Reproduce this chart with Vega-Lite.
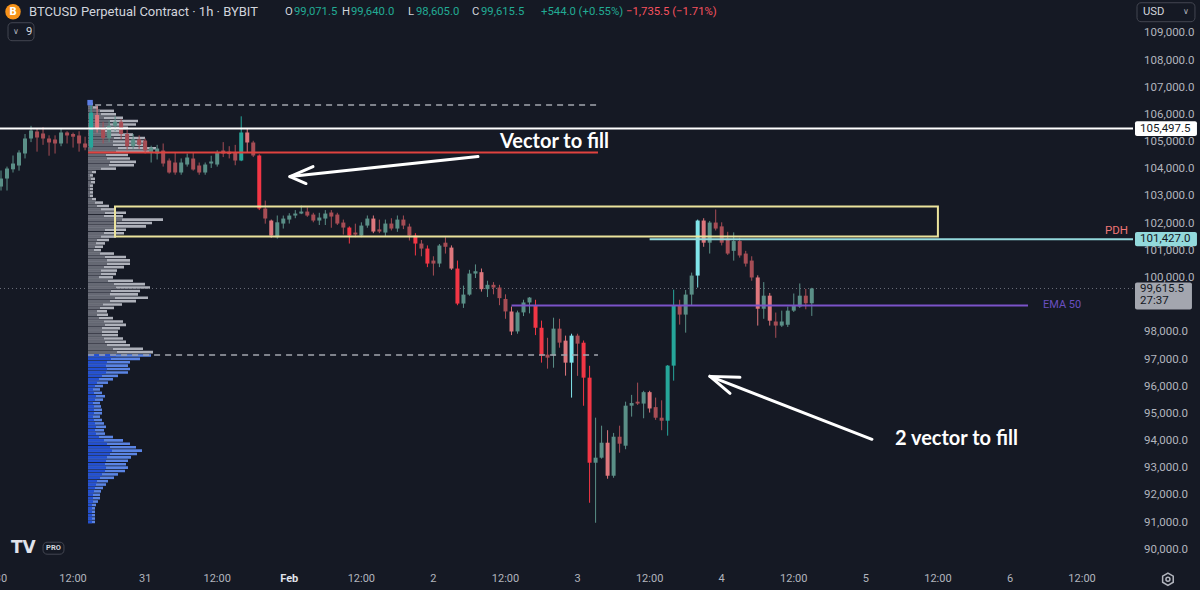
{
"$schema": "https://vega.github.io/schema/vega-lite/v6.json",
"width": 1133, "height": 568,
"autosize": {"type": "none"},
"padding": {"left": 0, "top": 0, "right": 67, "bottom": 22},
"background": "#151924",
"config": {"view": {"stroke": null}, "font": "Roboto", "axis": {"grid": false}},
"datasets": {
"candles": [
{"t":"2025-01-30T00:00Z","o":103366,"h":103956,"l":103219,"c":103661,"k":"up"},
{"t":"2025-01-30T01:00Z","o":103661,"h":104100,"l":103219,"c":104029,"k":"up"},
{"t":"2025-01-30T02:00Z","o":104000,"h":104508,"l":103882,"c":104213,"k":"up"},
{"t":"2025-01-30T03:00Z","o":104140,"h":104700,"l":103950,"c":104618,"k":"up"},
{"t":"2025-01-30T04:00Z","o":104582,"h":105300,"l":104400,"c":105134,"k":"up"},
{"t":"2025-01-30T05:00Z","o":105134,"h":105600,"l":105000,"c":105428,"k":"up"},
{"t":"2025-01-30T06:00Z","o":105392,"h":105500,"l":104650,"c":105170,"k":"dn"},
{"t":"2025-01-30T07:00Z","o":105318,"h":105550,"l":104900,"c":105134,"k":"dn"},
{"t":"2025-01-30T08:00Z","o":105134,"h":105250,"l":104500,"c":104987,"k":"dn"},
{"t":"2025-01-30T09:00Z","o":105097,"h":105250,"l":104580,"c":104950,"k":"dn"},
{"t":"2025-01-30T10:00Z","o":104950,"h":105500,"l":104850,"c":105355,"k":"up"},
{"t":"2025-01-30T11:00Z","o":105355,"h":105400,"l":104950,"c":105245,"k":"dn"},
{"t":"2025-01-30T12:00Z","o":105300,"h":105350,"l":104800,"c":105200,"k":"dn"},
{"t":"2025-01-30T13:00Z","o":105245,"h":105400,"l":104650,"c":104950,"k":"dn"},
{"t":"2025-01-30T14:00Z","o":104950,"h":105200,"l":104700,"c":104802,"k":"dn"},
{"t":"2025-01-30T15:00Z","o":104803,"h":106450,"l":104692,"c":106091,"k":"vup"},
{"t":"2025-01-30T16:00Z","o":106000,"h":106350,"l":105350,"c":105500,"k":"pdn"},
{"t":"2025-01-30T17:00Z","o":105500,"h":105750,"l":104950,"c":105150,"k":"dn"},
{"t":"2025-01-30T18:00Z","o":105150,"h":105800,"l":105000,"c":105600,"k":"up"},
{"t":"2025-01-30T19:00Z","o":105600,"h":105950,"l":105400,"c":105750,"k":"up"},
{"t":"2025-01-30T20:00Z","o":105750,"h":105850,"l":105100,"c":105300,"k":"dn"},
{"t":"2025-01-30T21:00Z","o":105300,"h":105450,"l":104700,"c":104850,"k":"dn"},
{"t":"2025-01-30T22:00Z","o":104850,"h":105300,"l":104750,"c":105100,"k":"up"},
{"t":"2025-01-30T23:00Z","o":105100,"h":105250,"l":104750,"c":104900,"k":"dn"},
{"t":"2025-01-31T00:00Z","o":105060,"h":105134,"l":104582,"c":104692,"k":"dn"},
{"t":"2025-01-31T01:00Z","o":104618,"h":104870,"l":104250,"c":104802,"k":"up"},
{"t":"2025-01-31T02:00Z","o":104582,"h":104900,"l":104360,"c":104765,"k":"up"},
{"t":"2025-01-31T03:00Z","o":104692,"h":104950,"l":104100,"c":104213,"k":"dn"},
{"t":"2025-01-31T04:00Z","o":104324,"h":104400,"l":103840,"c":103882,"k":"dn"},
{"t":"2025-01-31T05:00Z","o":104250,"h":104600,"l":103800,"c":103882,"k":"dn"},
{"t":"2025-01-31T06:00Z","o":103882,"h":104400,"l":103800,"c":104250,"k":"up"},
{"t":"2025-01-31T07:00Z","o":104176,"h":104580,"l":104100,"c":104434,"k":"up"},
{"t":"2025-01-31T08:00Z","o":104397,"h":104600,"l":103950,"c":103992,"k":"dn"},
{"t":"2025-01-31T09:00Z","o":104140,"h":104250,"l":103800,"c":103882,"k":"dn"},
{"t":"2025-01-31T10:00Z","o":103882,"h":104250,"l":103800,"c":104176,"k":"up"},
{"t":"2025-01-31T11:00Z","o":104213,"h":104500,"l":104050,"c":104287,"k":"up"},
{"t":"2025-01-31T12:00Z","o":104176,"h":104700,"l":104100,"c":104618,"k":"up"},
{"t":"2025-01-31T13:00Z","o":104692,"h":105000,"l":104450,"c":104582,"k":"dn"},
{"t":"2025-01-31T14:00Z","o":104650,"h":104850,"l":104400,"c":104560,"k":"dn"},
{"t":"2025-01-31T15:00Z","o":104618,"h":104900,"l":104150,"c":104324,"k":"dn"},
{"t":"2025-01-31T16:00Z","o":104324,"h":105950,"l":104300,"c":105355,"k":"vup"},
{"t":"2025-01-31T17:00Z","o":105355,"h":105500,"l":104618,"c":104987,"k":"pdn"},
{"t":"2025-01-31T18:00Z","o":104987,"h":105050,"l":104450,"c":104508,"k":"dn"},
{"t":"2025-01-31T19:00Z","o":104508,"h":104550,"l":102500,"c":102557,"k":"vdn"},
{"t":"2025-01-31T20:00Z","o":102557,"h":102850,"l":102000,"c":102189,"k":"dn"},
{"t":"2025-01-31T21:00Z","o":102115,"h":102150,"l":101480,"c":101562,"k":"pdn"},
{"t":"2025-01-31T22:00Z","o":101500,"h":102300,"l":101450,"c":102050,"k":"up"},
{"t":"2025-01-31T23:00Z","o":102004,"h":102298,"l":101820,"c":102188,"k":"up"},
{"t":"2025-02-01T00:00Z","o":102151,"h":102384,"l":102004,"c":102298,"k":"up"},
{"t":"2025-02-01T01:00Z","o":102298,"h":102500,"l":102200,"c":102372,"k":"up"},
{"t":"2025-02-01T02:00Z","o":102372,"h":102667,"l":102350,"c":102446,"k":"up"},
{"t":"2025-02-01T03:00Z","o":102446,"h":102600,"l":102250,"c":102298,"k":"dn"},
{"t":"2025-02-01T04:00Z","o":102335,"h":102400,"l":102050,"c":102115,"k":"dn"},
{"t":"2025-02-01T05:00Z","o":102115,"h":102400,"l":101950,"c":102225,"k":"up"},
{"t":"2025-02-01T06:00Z","o":102188,"h":102500,"l":101950,"c":102372,"k":"up"},
{"t":"2025-02-01T07:00Z","o":102410,"h":102500,"l":101850,"c":102262,"k":"dn"},
{"t":"2025-02-01T08:00Z","o":102335,"h":102400,"l":101950,"c":102004,"k":"dn"},
{"t":"2025-02-01T09:00Z","o":102041,"h":102150,"l":101600,"c":101857,"k":"dn"},
{"t":"2025-02-01T10:00Z","o":101857,"h":101900,"l":101268,"c":101562,"k":"vdn"},
{"t":"2025-02-01T11:00Z","o":101673,"h":102000,"l":101500,"c":101600,"k":"dn"},
{"t":"2025-02-01T12:00Z","o":101562,"h":102050,"l":101500,"c":101930,"k":"up"},
{"t":"2025-02-01T13:00Z","o":101930,"h":102300,"l":101850,"c":102188,"k":"up"},
{"t":"2025-02-01T14:00Z","o":102188,"h":102300,"l":101650,"c":101710,"k":"pdn"},
{"t":"2025-02-01T15:00Z","o":101790,"h":102150,"l":101650,"c":101710,"k":"dn"},
{"t":"2025-02-01T16:00Z","o":101673,"h":102150,"l":101550,"c":102004,"k":"up"},
{"t":"2025-02-01T17:00Z","o":102004,"h":102200,"l":101750,"c":101820,"k":"dn"},
{"t":"2025-02-01T18:00Z","o":101820,"h":102300,"l":101700,"c":102150,"k":"up"},
{"t":"2025-02-01T19:00Z","o":102150,"h":102300,"l":101800,"c":101930,"k":"dn"},
{"t":"2025-02-01T20:00Z","o":101893,"h":102000,"l":101380,"c":101562,"k":"dn"},
{"t":"2025-02-01T21:00Z","o":101562,"h":101650,"l":100830,"c":101268,"k":"vdn"},
{"t":"2025-02-01T22:00Z","o":101268,"h":101400,"l":100800,"c":101084,"k":"dn"},
{"t":"2025-02-01T23:00Z","o":101084,"h":101200,"l":100400,"c":100532,"k":"vdn"},
{"t":"2025-02-02T00:00Z","o":100642,"h":100800,"l":100090,"c":100532,"k":"dn"},
{"t":"2025-02-02T01:00Z","o":100532,"h":101250,"l":100400,"c":101195,"k":"up"},
{"t":"2025-02-02T02:00Z","o":101300,"h":101500,"l":100900,"c":101150,"k":"dn"},
{"t":"2025-02-02T03:00Z","o":101120,"h":101200,"l":100300,"c":100348,"k":"pdn"},
{"t":"2025-02-02T04:00Z","o":100348,"h":100642,"l":99000,"c":99060,"k":"vdn"},
{"t":"2025-02-02T05:00Z","o":99060,"h":99720,"l":98900,"c":99390,"k":"up"},
{"t":"2025-02-02T06:00Z","o":99390,"h":100300,"l":99350,"c":100164,"k":"up"},
{"t":"2025-02-02T07:00Z","o":100164,"h":100500,"l":100000,"c":100250,"k":"up"},
{"t":"2025-02-02T08:00Z","o":100215,"h":100350,"l":99500,"c":99590,"k":"pdn"},
{"t":"2025-02-02T09:00Z","o":99590,"h":99900,"l":99300,"c":99750,"k":"up"},
{"t":"2025-02-02T10:00Z","o":99750,"h":99850,"l":99400,"c":99650,"k":"dn"},
{"t":"2025-02-02T11:00Z","o":99650,"h":99750,"l":99000,"c":99260,"k":"dn"},
{"t":"2025-02-02T12:00Z","o":99230,"h":99400,"l":98500,"c":98770,"k":"dn"},
{"t":"2025-02-02T13:00Z","o":98770,"h":98950,"l":97900,"c":98035,"k":"pdn"},
{"t":"2025-02-02T14:00Z","o":98035,"h":98800,"l":97950,"c":98735,"k":"up"},
{"t":"2025-02-02T15:00Z","o":98735,"h":99200,"l":98600,"c":99100,"k":"up"},
{"t":"2025-02-02T16:00Z","o":99100,"h":99300,"l":98700,"c":99280,"k":"up"},
{"t":"2025-02-02T17:00Z","o":99000,"h":99200,"l":97900,"c":98170,"k":"vdn"},
{"t":"2025-02-02T18:00Z","o":98170,"h":98433,"l":96887,"c":97144,"k":"vdn"},
{"t":"2025-02-02T19:00Z","o":97180,"h":97800,"l":96665,"c":97070,"k":"dn"},
{"t":"2025-02-02T20:00Z","o":97144,"h":98540,"l":96700,"c":98138,"k":"up"},
{"t":"2025-02-02T21:00Z","o":98138,"h":98500,"l":97437,"c":97623,"k":"dn"},
{"t":"2025-02-02T22:00Z","o":97696,"h":97880,"l":96408,"c":96886,"k":"pdn"},
{"t":"2025-02-02T23:00Z","o":96886,"h":97950,"l":95600,"c":97880,"k":"cup"},
{"t":"2025-02-03T00:00Z","o":97880,"h":97950,"l":96400,"c":97585,"k":"dn"},
{"t":"2025-02-03T01:00Z","o":97620,"h":97700,"l":95300,"c":96334,"k":"vdn"},
{"t":"2025-02-03T02:00Z","o":96334,"h":96770,"l":91731,"c":93204,"k":"vdn"},
{"t":"2025-02-03T03:00Z","o":93204,"h":94861,"l":90995,"c":93389,"k":"up"},
{"t":"2025-02-03T04:00Z","o":93389,"h":94566,"l":93352,"c":93940,"k":"up"},
{"t":"2025-02-03T05:00Z","o":93940,"h":94400,"l":92615,"c":92725,"k":"pdn"},
{"t":"2025-02-03T06:00Z","o":92725,"h":94300,"l":92650,"c":94161,"k":"up"},
{"t":"2025-02-03T07:00Z","o":94161,"h":94566,"l":93573,"c":93904,"k":"dn"},
{"t":"2025-02-03T08:00Z","o":93830,"h":95450,"l":93700,"c":95303,"k":"up"},
{"t":"2025-02-03T09:00Z","o":95303,"h":95700,"l":94900,"c":95400,"k":"up"},
{"t":"2025-02-03T10:00Z","o":95450,"h":96150,"l":95330,"c":95380,"k":"dn"},
{"t":"2025-02-03T11:00Z","o":95380,"h":95850,"l":94840,"c":95800,"k":"up"},
{"t":"2025-02-03T12:00Z","o":95800,"h":95850,"l":95050,"c":95200,"k":"pdn"},
{"t":"2025-02-03T13:00Z","o":95250,"h":95600,"l":94780,"c":94860,"k":"dn"},
{"t":"2025-02-03T14:00Z","o":94860,"h":95500,"l":94400,"c":94750,"k":"dn"},
{"t":"2025-02-03T15:00Z","o":94750,"h":96800,"l":94200,"c":96776,"k":"vup"},
{"t":"2025-02-03T16:00Z","o":96776,"h":99570,"l":96224,"c":98986,"k":"vup"},
{"t":"2025-02-03T17:00Z","o":98986,"h":99200,"l":98286,"c":98654,"k":"dn"},
{"t":"2025-02-03T18:00Z","o":98654,"h":99560,"l":97990,"c":99390,"k":"up"},
{"t":"2025-02-03T19:00Z","o":99390,"h":100200,"l":98986,"c":100090,"k":"up"},
{"t":"2025-02-03T20:00Z","o":100090,"h":102150,"l":99650,"c":102115,"k":"cup"},
{"t":"2025-02-03T21:00Z","o":102115,"h":102200,"l":101150,"c":101300,"k":"pdn"},
{"t":"2025-02-03T22:00Z","o":101300,"h":102100,"l":100900,"c":102041,"k":"up"},
{"t":"2025-02-03T23:00Z","o":102041,"h":102520,"l":101750,"c":101820,"k":"dn"},
{"t":"2025-02-04T00:00Z","o":101900,"h":102050,"l":101200,"c":101300,"k":"dn"},
{"t":"2025-02-04T01:00Z","o":101450,"h":101700,"l":100850,"c":100900,"k":"dn"},
{"t":"2025-02-04T02:00Z","o":101000,"h":101680,"l":100640,"c":101360,"k":"up"},
{"t":"2025-02-04T03:00Z","o":101360,"h":101480,"l":100750,"c":100830,"k":"dn"},
{"t":"2025-02-04T04:00Z","o":100900,"h":101000,"l":100420,"c":100530,"k":"dn"},
{"t":"2025-02-04T05:00Z","o":100642,"h":100800,"l":99900,"c":100020,"k":"dn"},
{"t":"2025-02-04T06:00Z","o":100020,"h":100100,"l":98250,"c":98870,"k":"pdn"},
{"t":"2025-02-04T07:00Z","o":98870,"h":99850,"l":98500,"c":99350,"k":"up"},
{"t":"2025-02-04T08:00Z","o":99350,"h":99450,"l":98250,"c":98430,"k":"pdn"},
{"t":"2025-02-04T09:00Z","o":98400,"h":98730,"l":97800,"c":98250,"k":"dn"},
{"t":"2025-02-04T10:00Z","o":98250,"h":98800,"l":98200,"c":98400,"k":"up"},
{"t":"2025-02-04T11:00Z","o":98280,"h":98950,"l":98200,"c":98800,"k":"up"},
{"t":"2025-02-04T12:00Z","o":98800,"h":99430,"l":98750,"c":98980,"k":"up"},
{"t":"2025-02-04T13:00Z","o":98950,"h":99800,"l":98900,"c":99350,"k":"up"},
{"t":"2025-02-04T14:00Z","o":99350,"h":99600,"l":98850,"c":99071.5,"k":"dn"},
{"t":"2025-02-04T15:00Z","o":99071.5,"h":99640,"l":98605,"c":99615.5,"k":"up"}
],
"profile": [
{"p":106400,"v":5,"u":2,"z":"va"},{"p":106275,"v":10,"u":5,"z":"va"},{"p":106150,"v":26,"u":12,"z":"va"},{"p":106025,"v":28,"u":13,"z":"va"},
{"p":105900,"v":35,"u":16,"z":"va"},{"p":105775,"v":50,"u":22,"z":"va"},{"p":105650,"v":48,"u":22,"z":"va"},{"p":105525,"v":40,"u":18,"z":"va"},
{"p":105400,"v":35,"u":16,"z":"va"},{"p":105275,"v":45,"u":20,"z":"va"},{"p":105150,"v":57,"u":26,"z":"va"},{"p":105025,"v":56,"u":25,"z":"va"},
{"p":104900,"v":55,"u":25,"z":"va"},{"p":104775,"v":68,"u":30,"z":"va"},{"p":104650,"v":62,"u":28,"z":"va"},{"p":104525,"v":40,"u":18,"z":"va"},
{"p":104400,"v":42,"u":19,"z":"va"},{"p":104275,"v":48,"u":22,"z":"va"},{"p":104150,"v":46,"u":21,"z":"va"},{"p":104025,"v":28,"u":13,"z":"va"},
{"p":103900,"v":8,"u":4,"z":"va"},{"p":103775,"v":5,"u":2,"z":"va"},{"p":103650,"v":7,"u":3,"z":"va"},{"p":103525,"v":7,"u":3,"z":"va"},
{"p":103400,"v":5,"u":2,"z":"va"},{"p":103275,"v":5,"u":2,"z":"va"},{"p":103150,"v":5,"u":2,"z":"va"},{"p":103025,"v":5,"u":2,"z":"va"},
{"p":102900,"v":8,"u":4,"z":"va"},{"p":102775,"v":15,"u":7,"z":"va"},{"p":102650,"v":21,"u":9,"z":"va"},{"p":102525,"v":28,"u":13,"z":"va"},
{"p":102400,"v":38,"u":17,"z":"va"},{"p":102275,"v":35,"u":16,"z":"va"},{"p":102150,"v":75,"u":34,"z":"va"},{"p":102025,"v":64,"u":29,"z":"va"},
{"p":101900,"v":58,"u":26,"z":"va"},{"p":101775,"v":38,"u":17,"z":"va"},{"p":101650,"v":36,"u":16,"z":"va"},{"p":101525,"v":28,"u":13,"z":"va"},
{"p":101400,"v":21,"u":9,"z":"va"},{"p":101275,"v":17,"u":8,"z":"va"},{"p":101150,"v":15,"u":7,"z":"va"},{"p":101025,"v":13,"u":6,"z":"va"},
{"p":100900,"v":26,"u":12,"z":"va"},{"p":100775,"v":38,"u":17,"z":"va"},{"p":100650,"v":42,"u":19,"z":"va"},{"p":100525,"v":42,"u":19,"z":"va"},
{"p":100400,"v":36,"u":16,"z":"va"},{"p":100275,"v":29,"u":13,"z":"va"},{"p":100150,"v":28,"u":13,"z":"va"},{"p":100025,"v":25,"u":11,"z":"va"},
{"p":99900,"v":45,"u":20,"z":"va"},{"p":99775,"v":57,"u":26,"z":"va"},{"p":99650,"v":62,"u":28,"z":"va"},{"p":99525,"v":52,"u":23,"z":"va"},
{"p":99400,"v":50,"u":22,"z":"va"},{"p":99275,"v":60,"u":27,"z":"va"},{"p":99150,"v":48,"u":22,"z":"va"},{"p":99025,"v":34,"u":15,"z":"va"},
{"p":98900,"v":26,"u":12,"z":"va"},{"p":98775,"v":19,"u":9,"z":"va"},{"p":98650,"v":20,"u":9,"z":"va"},{"p":98525,"v":25,"u":11,"z":"va"},
{"p":98400,"v":35,"u":16,"z":"va"},{"p":98275,"v":38,"u":17,"z":"va"},{"p":98150,"v":32,"u":14,"z":"va"},{"p":98025,"v":30,"u":14,"z":"va"},
{"p":97900,"v":30,"u":14,"z":"va"},{"p":97775,"v":35,"u":16,"z":"va"},{"p":97650,"v":38,"u":17,"z":"va"},{"p":97525,"v":42,"u":19,"z":"va"},
{"p":97400,"v":55,"u":25,"z":"va"},{"p":97275,"v":65,"u":29,"z":"va"},
{"p":97150,"v":63,"u":28,"z":"out"},{"p":97025,"v":52,"u":23,"z":"out"},{"p":96900,"v":42,"u":19,"z":"out"},{"p":96775,"v":40,"u":18,"z":"out"},
{"p":96650,"v":42,"u":19,"z":"out"},{"p":96525,"v":40,"u":18,"z":"out"},{"p":96400,"v":30,"u":14,"z":"out"},{"p":96275,"v":25,"u":11,"z":"out"},
{"p":96150,"v":20,"u":9,"z":"out"},{"p":96025,"v":15,"u":7,"z":"out"},{"p":95900,"v":12,"u":5,"z":"out"},{"p":95775,"v":14,"u":6,"z":"out"},
{"p":95650,"v":17,"u":8,"z":"out"},{"p":95525,"v":15,"u":7,"z":"out"},{"p":95400,"v":12,"u":5,"z":"out"},{"p":95275,"v":13,"u":6,"z":"out"},
{"p":95150,"v":14,"u":6,"z":"out"},{"p":95025,"v":14,"u":6,"z":"out"},{"p":94900,"v":12,"u":5,"z":"out"},{"p":94775,"v":14,"u":6,"z":"out"},
{"p":94650,"v":16,"u":7,"z":"out"},{"p":94525,"v":18,"u":8,"z":"out"},{"p":94400,"v":16,"u":7,"z":"out"},{"p":94275,"v":17,"u":8,"z":"out"},
{"p":94150,"v":25,"u":11,"z":"out"},{"p":94025,"v":35,"u":16,"z":"out"},{"p":93900,"v":42,"u":19,"z":"out"},{"p":93775,"v":48,"u":22,"z":"out"},
{"p":93650,"v":54,"u":24,"z":"out"},{"p":93525,"v":49,"u":22,"z":"out"},{"p":93400,"v":43,"u":19,"z":"out"},{"p":93275,"v":40,"u":18,"z":"out"},
{"p":93150,"v":38,"u":17,"z":"out"},{"p":93025,"v":40,"u":18,"z":"out"},{"p":92900,"v":37,"u":17,"z":"out"},{"p":92775,"v":30,"u":14,"z":"out"},
{"p":92650,"v":26,"u":12,"z":"out"},{"p":92525,"v":20,"u":9,"z":"out"},{"p":92400,"v":18,"u":8,"z":"out"},{"p":92275,"v":15,"u":7,"z":"out"},
{"p":92150,"v":13,"u":6,"z":"out"},{"p":92025,"v":12,"u":5,"z":"out"},{"p":91900,"v":12,"u":5,"z":"out"},{"p":91775,"v":10,"u":5,"z":"out"},
{"p":91650,"v":8,"u":4,"z":"out"},{"p":91525,"v":7,"u":4,"z":"out"},{"p":91400,"v":7,"u":4,"z":"out"},{"p":91275,"v":7,"u":4,"z":"out"},
{"p":91150,"v":7,"u":4,"z":"out"},{"p":91025,"v":7,"u":4,"z":"out"}
],
"priceTicks": [
{"p":90000,"txt":"90,000.0"},{"p":91000,"txt":"91,000.0"},{"p":92000,"txt":"92,000.0"},{"p":93000,"txt":"93,000.0"},
{"p":94000,"txt":"94,000.0"},{"p":95000,"txt":"95,000.0"},{"p":96000,"txt":"96,000.0"},{"p":97000,"txt":"97,000.0"},
{"p":98000,"txt":"98,000.0"},{"p":100000,"txt":"100,000.0"},{"p":101000,"txt":"101,000.0"},
{"p":102000,"txt":"102,000.0"},{"p":103000,"txt":"103,000.0"},{"p":104000,"txt":"104,000.0"},{"p":105000,"txt":"105,000.0"},
{"p":106000,"txt":"106,000.0"},{"p":107000,"txt":"107,000.0"},{"p":108000,"txt":"108,000.0"},{"p":109000,"txt":"109,000.0"}
],
"timeTicks": [
{"t":"2025-01-30T00:00Z","txt":"30","kind":"day"},{"t":"2025-01-30T12:00Z","txt":"12:00","kind":"hour"},
{"t":"2025-01-31T00:00Z","txt":"31","kind":"day"},{"t":"2025-01-31T12:00Z","txt":"12:00","kind":"hour"},
{"t":"2025-02-01T00:00Z","txt":"Feb","kind":"month"},{"t":"2025-02-01T12:00Z","txt":"12:00","kind":"hour"},
{"t":"2025-02-02T00:00Z","txt":"2","kind":"day"},{"t":"2025-02-02T12:00Z","txt":"12:00","kind":"hour"},
{"t":"2025-02-03T00:00Z","txt":"3","kind":"day"},{"t":"2025-02-03T12:00Z","txt":"12:00","kind":"hour"},
{"t":"2025-02-04T00:00Z","txt":"4","kind":"day"},{"t":"2025-02-04T12:00Z","txt":"12:00","kind":"hour"},
{"t":"2025-02-05T00:00Z","txt":"5","kind":"day"},{"t":"2025-02-05T12:00Z","txt":"12:00","kind":"hour"},
{"t":"2025-02-06T00:00Z","txt":"6","kind":"day"},{"t":"2025-02-06T12:00Z","txt":"12:00","kind":"hour"}
]
},
"resolve": {"scale": {"x": "independent"}},
"layer": [
{
"data": {"name": "profile"},
"layer": [
{"mark": {"type": "bar", "orient": "horizontal", "size": 2.6},
 "encoding": {"x": {"field": "v", "type": "quantitative", "scale": {"domain": [-88, 1045], "zero": false, "nice": false, "padding": 0}, "axis": null},
  "y": {"field": "p", "type": "quantitative", "scale": {"domain": [89330, 110230], "zero": false, "nice": false, "padding": 0}, "axis": null},
  "color": {"condition": {"test": "datum.z == 'va'", "value": "#aeb1ba"}, "value": "#5a84e4"}}},
{"mark": {"type": "bar", "orient": "horizontal", "size": 2.6},
 "encoding": {"x": {"field": "u", "type": "quantitative", "axis": null},
  "y": {"field": "p", "type": "quantitative", "axis": null},
  "color": {"condition": {"test": "datum.z == 'va'", "value": "#666974"}, "value": "#2350d2"}}}
]
},
{
"layer": [
{"data": {"values": [{"p": 99615.5}]},
 "mark": {"type": "rule", "color": "#6b6f7a", "strokeWidth": 1, "strokeDash": [1, 3]},
 "encoding": {"y": {"field": "p", "type": "quantitative", "axis": null}}},
{"data": {"name": "candles"},
 "mark": {"type": "rule", "strokeWidth": 1},
 "encoding": {
  "x": {"field": "t", "type": "temporal", "scale": {"type": "utc", "domain": [1738194600000, 1738873740000], "padding": 0}, "axis": null},
  "y": {"field": "l", "type": "quantitative", "axis": null},
  "y2": {"field": "h"},
  "color": {"field": "k", "type": "nominal", "legend": null,
   "scale": {"domain": ["up", "dn", "vup", "vdn", "cup", "pdn"], "range": ["#5a8f87", "#a64d55", "#26a69a", "#f23645", "#80e4ea", "#de777d"]}}}},
{"data": {"name": "candles"},
 "mark": {"type": "bar", "width": 4},
 "encoding": {
  "x": {"field": "t", "type": "temporal", "axis": null},
  "y": {"field": "o", "type": "quantitative", "axis": null}, "y2": {"field": "c"},
  "color": {"field": "k", "type": "nominal", "legend": null}}},
{"data": {"values": [{"t1": "2025-01-30T15:40Z", "t2": "2025-02-03T03:24Z", "p": 106370}, {"t1": "2025-01-30T14:30Z", "t2": "2025-02-03T03:24Z", "p": 97170}], "format": {"parse": {"t1": "date", "t2": "date"}}},
 "mark": {"type": "rule", "color": "#a3a6af", "strokeWidth": 1.5, "strokeDash": [6, 5]},
 "encoding": {"x": {"field": "t1", "type": "temporal", "axis": null}, "x2": {"field": "t2"}, "y": {"field": "p", "type": "quantitative", "axis": null}}},
{"data": {"values": [{"t1": "2025-01-30T18:59Z", "t2": "2025-02-05T12:00Z", "p1": 101530, "p2": 102630}], "format": {"parse": {"t1": "date", "t2": "date"}}},
 "mark": {"type": "rect", "fill": "#e8df96", "fillOpacity": 0, "stroke": "#ebe39c", "strokeWidth": 2},
 "encoding": {"x": {"field": "t1", "type": "temporal", "axis": null}, "x2": {"field": "t2"}, "y": {"field": "p1", "type": "quantitative", "axis": null}, "y2": {"field": "p2"}}},
{"data": {"values": [{"t1": "2025-01-30T14:30Z", "t2": "2025-02-03T03:24Z", "p": 104620}], "format": {"parse": {"t1": "date", "t2": "date"}}},
 "mark": {"type": "rule", "color": "#e0433f", "strokeWidth": 2},
 "encoding": {"x": {"field": "t1", "type": "temporal", "axis": null}, "x2": {"field": "t2"}, "y": {"field": "p", "type": "quantitative", "axis": null}}},
{"data": {"values": [{"t1": "2025-02-02T13:00Z", "t2": "2025-02-06T03:00Z", "p": 98991}], "format": {"parse": {"t1": "date", "t2": "date"}}},
 "mark": {"type": "rule", "color": "#7b53c8", "strokeWidth": 2},
 "encoding": {"x": {"field": "t1", "type": "temporal", "axis": null}, "x2": {"field": "t2"}, "y": {"field": "p", "type": "quantitative", "axis": null}}},
{"data": {"values": [{"t1": "2025-02-03T12:00Z", "t2": "2025-02-06T20:29Z", "p": 101427}], "format": {"parse": {"t1": "date", "t2": "date"}}},
 "mark": {"type": "rule", "color": "#93d9dc", "strokeWidth": 2},
 "encoding": {"x": {"field": "t1", "type": "temporal", "axis": null}, "x2": {"field": "t2"}, "y": {"field": "p", "type": "quantitative", "axis": null}}},
{"data": {"values": [{"p": 105497.5}]},
 "mark": {"type": "rule", "color": "#ffffff", "strokeWidth": 2},
 "encoding": {"y": {"field": "p", "type": "quantitative", "axis": null}}},
{"data": {"values": [
  {"t1": "2025-02-02T07:25Z", "p1": 104468, "t2": "2025-02-01T00:07Z", "p2": 103733},
  {"t1": "2025-02-01T00:07Z", "p1": 103733, "t2": "2025-02-01T03:57Z", "p2": 104101},
  {"t1": "2025-02-01T00:07Z", "p1": 103733, "t2": "2025-02-01T02:47Z", "p2": 103476},
  {"t1": "2025-02-05T01:01Z", "p1": 94065, "t2": "2025-02-03T22:03Z", "p2": 96381},
  {"t1": "2025-02-03T22:03Z", "p1": 96381, "t2": "2025-02-04T03:02Z", "p2": 96345},
  {"t1": "2025-02-03T22:03Z", "p1": 96381, "t2": "2025-02-04T01:23Z", "p2": 95756}], "format": {"parse": {"t1": "date", "t2": "date"}}},
 "mark": {"type": "rule", "color": "#ffffff", "strokeWidth": 3, "strokeCap": "round"},
 "encoding": {"x": {"field": "t1", "type": "temporal", "axis": null}, "x2": {"field": "t2"}, "y": {"field": "p1", "type": "quantitative", "axis": null}, "y2": {"field": "p2"}}},
{"data": {"values": [{"t": "2025-02-02T11:05Z", "p": 105020, "txt": "Vector to fill"}, {"t": "2025-02-05T04:51Z", "p": 94065, "txt": "2 vector to fill"}]},
 "mark": {"type": "text", "font": "Lato", "fontWeight": "bold", "fontSize": 20, "color": "#ffffff", "align": "left", "baseline": "middle"},
 "encoding": {"x": {"field": "t", "type": "temporal", "axis": null}, "y": {"field": "p", "type": "quantitative", "axis": null}, "text": {"field": "txt"}}},
{"data": {"values": [{"t": "2025-02-06T19:38Z", "p": 101748, "txt": "PDH"}]},
 "mark": {"type": "text", "font": "Roboto", "fontSize": 11.5, "color": "#ef7676", "align": "right", "baseline": "middle"},
 "encoding": {"x": {"field": "t", "type": "temporal", "axis": null}, "y": {"field": "p", "type": "quantitative", "axis": null}, "text": {"field": "txt"}}},
{"data": {"values": [{"t": "2025-02-06T05:30Z", "p": 98991, "txt": "EMA 50"}]},
 "mark": {"type": "text", "font": "Roboto", "fontSize": 11, "color": "#6a4fc0", "align": "left", "baseline": "middle"},
 "encoding": {"x": {"field": "t", "type": "temporal", "axis": null}, "y": {"field": "p", "type": "quantitative", "axis": null}, "text": {"field": "txt"}}},
{"data": {"name": "priceTicks"},
 "mark": {"type": "text", "font": "Roboto", "fontSize": 11.5, "color": "#b2b5be", "align": "left", "baseline": "middle"},
 "encoding": {"x": {"datum": {"year": 2025, "month": 2, "date": 6, "hours": 22, "minutes": 19, "utc": true}, "type": "temporal", "axis": null}, "y": {"field": "p", "type": "quantitative", "axis": null}, "text": {"field": "txt"}}},
{"data": {"name": "timeTicks"},
 "transform": [{"filter": "datum.kind != 'month'"}],
 "mark": {"type": "text", "font": "Roboto", "fontSize": 11, "align": "center", "baseline": "middle", "color": "#b2b5be"},
 "encoding": {"x": {"field": "t", "type": "temporal", "axis": null}, "y": {"datum": 88919, "type": "quantitative", "axis": null}, "text": {"field": "txt"}}},
{"data": {"name": "timeTicks"},
 "transform": [{"filter": "datum.kind == 'month'"}],
 "mark": {"type": "text", "font": "Roboto", "fontSize": 11, "fontWeight": "bold", "align": "center", "baseline": "middle", "color": "#e0e3eb"},
 "encoding": {"x": {"field": "t", "type": "temporal", "axis": null}, "y": {"datum": 88919, "type": "quantitative", "axis": null}, "text": {"field": "txt"}}},
{"data": {"values": [
  {"t": "2025-01-30T04:40Z", "p": 109798, "txt": "BTCUSD Perpetual Contract · 1h · BYBIT"}]},
 "mark": {"type": "text", "font": "Roboto", "fontSize": 13, "align": "left", "baseline": "middle", "color": "#d1d4dc"},
 "encoding": {"x": {"field": "t", "type": "temporal", "axis": null}, "y": {"field": "p", "type": "quantitative", "axis": null}, "text": {"field": "txt"}}},
{"data": {"values": [
  {"t": "2025-01-31T23:17Z", "p": 109798, "txt": "O", "kind": "lab"},
  {"t": "2025-02-01T00:47Z", "p": 109798, "txt": "99,071.5", "kind": "up"},
  {"t": "2025-02-01T08:47Z", "p": 109798, "txt": "H", "kind": "lab"},
  {"t": "2025-02-01T10:16Z", "p": 109798, "txt": "99,640.0", "kind": "up"},
  {"t": "2025-02-01T19:46Z", "p": 109798, "txt": "L", "kind": "lab"},
  {"t": "2025-02-01T21:06Z", "p": 109798, "txt": "98,605.0", "kind": "up"},
  {"t": "2025-02-02T06:25Z", "p": 109798, "txt": "C", "kind": "lab"},
  {"t": "2025-02-02T07:55Z", "p": 109798, "txt": "99,615.5", "kind": "up"},
  {"t": "2025-02-02T17:55Z", "p": 109798, "txt": "+544.0 (+0.55%)", "kind": "up"},
  {"t": "2025-02-03T08:04Z", "p": 109798, "txt": "−1,735.5 (−1.71%)", "kind": "dn"},
  {"t": "2025-02-06T22:09Z", "p": 109780, "txt": "USD", "kind": "lab"},
  {"t": "2025-01-30T04:10Z", "p": 109063, "txt": "9", "kind": "lab"}]},
 "mark": {"type": "text", "font": "Roboto", "fontSize": 11.3, "align": "left", "baseline": "middle"},
 "encoding": {"x": {"field": "t", "type": "temporal", "axis": null}, "y": {"field": "p", "type": "quantitative", "axis": null}, "text": {"field": "txt"},
  "color": {"condition": [{"test": "datum.kind == 'up'", "value": "#22ab94"}, {"test": "datum.kind == 'dn'", "value": "#f7525f"}], "value": "#d1d4dc"}}},
{"data": {"values": [{"t": "2025-01-30T02:00Z", "p": 109798}]},
 "mark": {"type": "point", "shape": "circle", "filled": true, "size": 240, "color": "#f7931a", "opacity": 1},
 "encoding": {"x": {"field": "t", "type": "temporal", "axis": null}, "y": {"field": "p", "type": "quantitative", "axis": null}}},
{"data": {"values": [{"t": "2025-01-30T02:00Z", "p": 109798, "txt": "B"}]},
 "mark": {"type": "text", "font": "DejaVu Sans", "fontWeight": "bold", "fontSize": 10, "color": "#ffffff", "align": "center", "baseline": "middle"},
 "encoding": {"x": {"field": "t", "type": "temporal", "axis": null}, "y": {"field": "p", "type": "quantitative", "axis": null}, "text": {"field": "txt"}}},
{"data": {"values": [
  {"t1": "2025-02-06T21:09Z", "t2": "2025-02-07T06:48Z", "p1": 110129, "p2": 109431},
  {"t1": "2025-01-30T01:10Z", "t2": "2025-01-30T05:30Z", "p1": 109394, "p2": 108732},
  {"t1": "2025-01-30T07:00Z", "t2": "2025-01-30T10:29Z", "p1": 90279, "p2": 89838}], "format": {"parse": {"t1": "date", "t2": "date"}}},
 "mark": {"type": "rect", "fill": "#151924", "fillOpacity": 0, "stroke": "#434651", "strokeWidth": 1, "cornerRadius": 4},
 "encoding": {"x": {"field": "t1", "type": "temporal", "axis": null}, "x2": {"field": "t2"}, "y": {"field": "p1", "type": "quantitative", "axis": null}, "y2": {"field": "p2"}}},
{"data": {"values": [{"t": "2025-02-07T05:18Z", "p": 109800, "txt": "∨"}, {"t": "2025-01-30T02:30Z", "p": 109063, "txt": "∨"}]},
 "mark": {"type": "text", "font": "DejaVu Sans", "fontSize": 8, "color": "#b2b5be", "align": "center", "baseline": "middle"},
 "encoding": {"x": {"field": "t", "type": "temporal", "axis": null}, "y": {"field": "p", "type": "quantitative", "axis": null}, "text": {"field": "txt"}}},
{"data": {"values": [{"t": "2025-01-30T08:44Z", "p": 90058, "txt": "PRO"}]},
 "mark": {"type": "text", "font": "Roboto", "fontWeight": "bold", "fontSize": 7.5, "color": "#d1d4dc", "align": "center", "baseline": "middle"},
 "encoding": {"x": {"field": "t", "type": "temporal", "axis": null}, "y": {"field": "p", "type": "quantitative", "axis": null}, "text": {"field": "txt"}}},
{"data": {"values": [{"t": "2025-01-30T01:40Z", "p": 90058, "txt": "TV"}]},
 "mark": {"type": "text", "font": "DejaVu Sans", "fontWeight": "bold", "fontSize": 17, "color": "#e0e3eb", "align": "left", "baseline": "middle"},
 "encoding": {"x": {"field": "t", "type": "temporal", "axis": null}, "y": {"field": "p", "type": "quantitative", "axis": null}, "text": {"field": "txt"}}},
{"data": {"values": [
  {"t1": "2025-02-06T20:49Z", "t2": "2025-02-07T07:08Z", "p1": 105773, "p2": 105222, "kind": "white"},
  {"t1": "2025-02-06T20:49Z", "t2": "2025-02-07T07:08Z", "p1": 101690, "p2": 101165, "kind": "cyan"},
  {"t1": "2025-02-06T20:49Z", "t2": "2025-02-07T06:18Z", "p1": 99836, "p2": 98844, "kind": "gray"}], "format": {"parse": {"t1": "date", "t2": "date"}}},
 "mark": {"type": "rect", "cornerRadius": 2},
 "encoding": {"x": {"field": "t1", "type": "temporal", "axis": null}, "x2": {"field": "t2"}, "y": {"field": "p1", "type": "quantitative", "axis": null}, "y2": {"field": "p2"},
  "color": {"condition": [{"test": "datum.kind == 'white'", "value": "#ffffff"}, {"test": "datum.kind == 'cyan'", "value": "#93d9dc"}], "value": "#a3a6af"}}},
{"data": {"values": [
  {"t": "2025-02-06T21:39Z", "p": 105497.5, "txt": "105,497.5"},
  {"t": "2025-02-06T21:39Z", "p": 101427, "txt": "101,427.0"},
  {"t": "2025-02-06T21:39Z", "p": 99598, "txt": "99,615.5"},
  {"t": "2025-02-06T21:39Z", "p": 99138, "txt": "27:37"}]},
 "mark": {"type": "text", "font": "Roboto", "fontSize": 11.5, "color": "#131722", "align": "left", "baseline": "middle"},
 "encoding": {"x": {"field": "t", "type": "temporal", "axis": null}, "y": {"field": "p", "type": "quantitative", "axis": null}, "text": {"field": "txt"}}},
{"data": {"values": [{"t": "2025-02-07T02:18Z", "p": 88919}]},
 "mark": {"type": "point", "shape": "M0,-1L0.866,-0.5L0.866,0.5L0,1L-0.866,0.5L-0.866,-0.5Z", "filled": false, "size": 150, "color": "#b2b5be", "strokeWidth": 1.5, "opacity": 1},
 "encoding": {"x": {"field": "t", "type": "temporal", "axis": null}, "y": {"field": "p", "type": "quantitative", "axis": null}}},
{"data": {"values": [{"t": "2025-02-07T02:18Z", "p": 88919}]},
 "mark": {"type": "point", "shape": "circle", "filled": false, "size": 16, "color": "#b2b5be", "strokeWidth": 1.5, "opacity": 1},
 "encoding": {"x": {"field": "t", "type": "temporal", "axis": null}, "y": {"field": "p", "type": "quantitative", "axis": null}}},
{"data": {"values": [{"t": "2025-01-30T14:50Z", "p": 106453}]},
 "mark": {"type": "point", "shape": "square", "filled": true, "size": 30, "color": "#5c7ee6", "opacity": 1},
 "encoding": {"x": {"field": "t", "type": "temporal", "axis": null}, "y": {"field": "p", "type": "quantitative", "axis": null}}}
]
}
]
}
